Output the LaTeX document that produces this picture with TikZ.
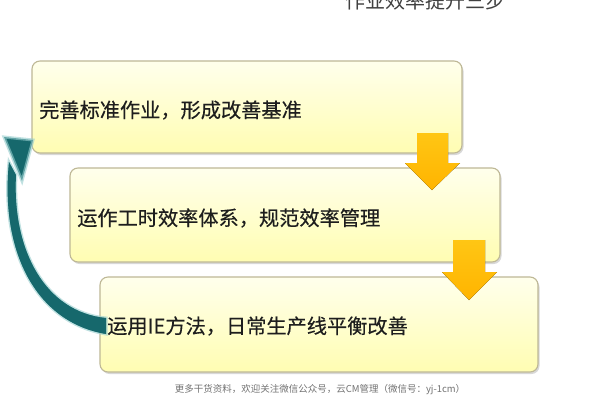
\documentclass[tikz,border=0pt]{standalone}
\usepackage{fontspec}
\newfontfamily\cjk{Noto Sans CJK SC}
\newfontfamily\cjkb[FakeBold=0.4]{Noto Sans CJK SC}
\usetikzlibrary{shadows}
\definecolor{boxedge}{RGB}{190,184,150}
\definecolor{boxtop}{RGB}{255,255,236}
\definecolor{boxbot}{RGB}{255,253,178}
\definecolor{orangeA}{RGB}{255,198,20}
\definecolor{orangeB}{RGB}{255,180,0}
\definecolor{tealA}{RGB}{22,104,108}
\definecolor{tealglow}{RGB}{150,205,205}
\definecolor{txt}{RGB}{30,30,30}
\begin{document}
\begin{tikzpicture}[x=1pt,y=-1pt,
  stepbox/.style={draw=boxedge, line width=1.1pt, rounded corners=8pt,
    top color=boxtop, bottom color=boxbot, inner sep=0pt,
    drop shadow={shadow xshift=1.5pt, shadow yshift=-2pt, opacity=0.25, fill=black!60}},
  lbl/.style={font=\cjkb\fontsize{20.2}{20.2}\selectfont, text=txt, anchor=west, inner sep=0pt},
  blockarrow/.style={top color=orangeA, bottom color=orangeB, draw=none},
  loopbody/.style={fill=tealA, draw=tealglow, line width=3pt, draw opacity=0.6}]
\useasboundingbox (0,0) rectangle (600,400);
\clip (0,0) rectangle (600,400);
\fill[white] (0,0) rectangle (600,400);
% title
\node[font=\cjk\fontsize{20}{20}\selectfont, text=black!75, inner sep=0pt] (title) at (425,1) {作业效率提升三步};
% boxes
\node[stepbox, minimum width=430pt, minimum height=92pt] (b1) at (247,107) {};
\node[lbl] (t1) at (39,110) {完善标准作业，形成改善基准};
\node[stepbox, minimum width=430pt, minimum height=94pt] (b2) at (285,215) {};
\node[lbl] (t2) at (77,218) {运作工时效率体系，规范效率管理};
\node[stepbox, minimum width=438pt, minimum height=95pt] (b3) at (319,324.5) {};
\node[lbl] (t3) at (107,326) {运用IE方法，日常生产线平衡改善};
% orange block arrows
\fill[blockarrow] (417,133) -- (448,133) -- (448,163) -- (460,163) -- (432,190) -- (405,163) -- (417,163) -- cycle;
\fill[blockarrow] (453,240) -- (485,240) -- (485,272) -- (497,272) -- (469,300) -- (442,272) -- (453,272) -- cycle;
% teal loop arrow
\path[loopbody] (9,162) .. controls (0,250) and (35,322) .. (106,334)
  -- (106,318) .. controls (45,312) and (12,250) .. (16,175) -- cycle;
\path[loopbody] (4,137) -- (33,140) -- (22,181) -- cycle;
\fill[tealA] (9,162) .. controls (0,250) and (35,322) .. (106,334)
  -- (106,318) .. controls (45,312) and (12,250) .. (16,175) -- cycle;
% footer
\node[font=\cjk\fontsize{9.5}{9.5}\selectfont, text=black!55, inner sep=0pt] (foot) at (320,390) {更多干货资料，欢迎关注微信公众号，云CM管理（微信号：yj-1cm）};
\end{tikzpicture}
\end{document}
